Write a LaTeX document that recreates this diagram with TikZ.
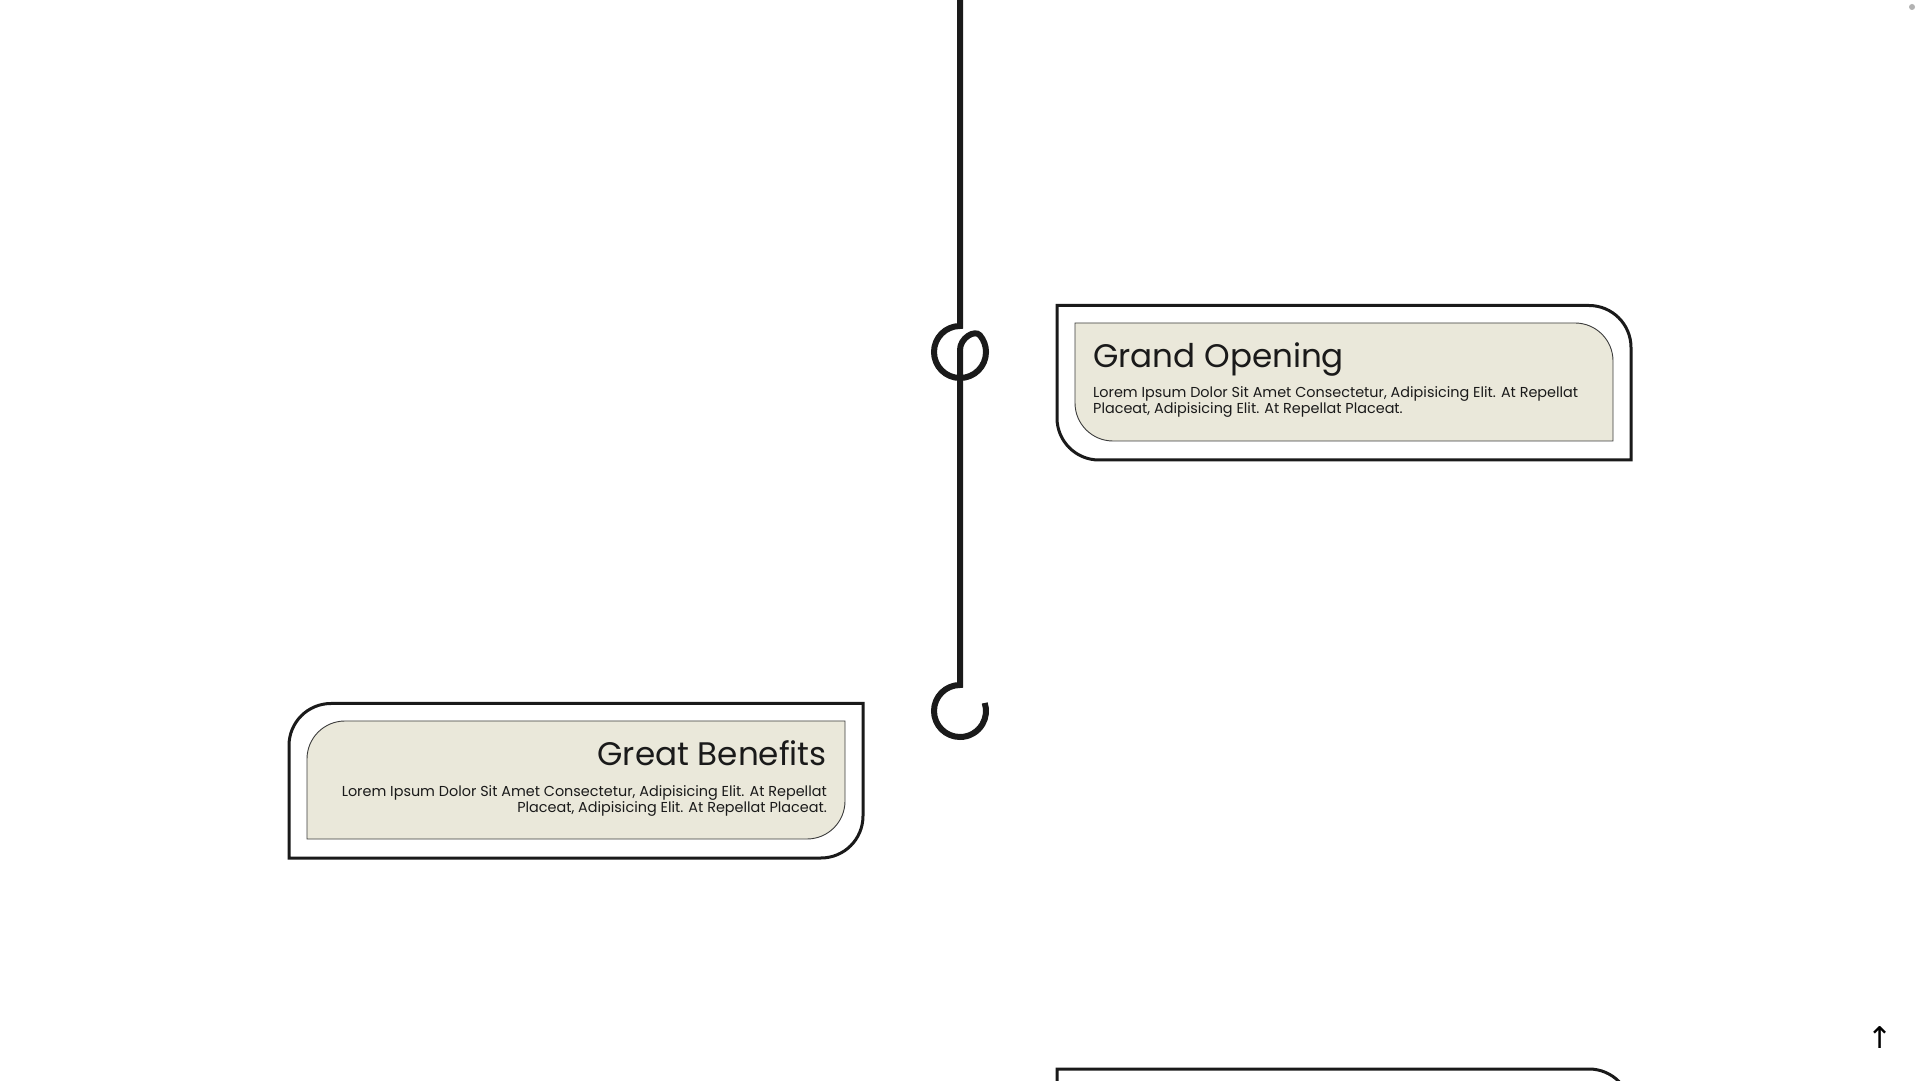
\documentclass[tikz,border=0pt]{standalone}
\usepackage{fontspec}
\setmainfont{Poppins}
\newfontfamily\arrowfont{DejaVu Sans}
\usepackage{tikz}
\usetikzlibrary{calc}
\definecolor{inkdark}{HTML}{1A1A1A}
\definecolor{cardfill}{HTML}{EAE8DA}

\begin{document}
\begin{tikzpicture}[x=1pt, y=1pt,
    outerbox/.style={draw=inkdark, line width=3pt},
    innerbox/.style={draw=inkdark!85, line width=0.9pt, fill=cardfill},
    stem/.style={draw=inkdark, line width=6pt},
    cardtitle/.style={inner sep=0pt, text=inkdark, font=\fontsize{32.6}{38}\selectfont},
    cardtext/.style={inner sep=0pt, text=inkdark, font=\fontsize{14.4}{16}\selectfont}]
  \useasboundingbox (0,0) rectangle (1920,1080);
  \fill[white] (0,0) rectangle (1920,1080);

  % the stem with its two loops
  \draw[stem] (960,1090) -- (960,754)
    arc[start angle=90, end angle=400, radius=26]
    .. controls (974.8,750.8) and (960,742) .. (960,730)
    -- (960,395)
    arc[start angle=90, end angle=378, radius=26];

  % card 1, right of the stem
  \draw[outerbox] (1057,774.5) -- (1589,774.5) arc[start angle=90, end angle=0, radius=42]
    -- (1631,620) -- (1099,620) arc[start angle=270, end angle=180, radius=42] -- cycle;
  \draw[innerbox] (1075,757) -- (1575,757) arc[start angle=90, end angle=0, radius=38]
    -- (1613,639) -- (1113,639) arc[start angle=270, end angle=180, radius=38] -- cycle;
  \node[cardtitle, anchor=base west] (title1) at (1093,712) {Grand Opening};
  \node[cardtext, anchor=base west, align=left] (text1) at (1093,666)
    {Lorem Ipsum Dolor Sit Amet Consectetur, Adipisicing Elit. At Repellat\\
     Placeat, Adipisicing Elit. At Repellat Placeat.};

  % card 2, left of the stem
  \draw[outerbox] (863,376.5) -- (331,376.5) arc[start angle=90, end angle=180, radius=42]
    -- (289,222) -- (821,222) arc[start angle=270, end angle=360, radius=42] -- cycle;
  \draw[innerbox] (845,359) -- (345,359) arc[start angle=90, end angle=180, radius=38]
    -- (307,241) -- (807,241) arc[start angle=270, end angle=360, radius=38] -- cycle;
  \node[cardtitle, anchor=base east] (title2) at (827,314) {Great Benefits};
  \node[cardtext, anchor=base east, align=right] (text2) at (827,268)
    {Lorem Ipsum Dolor Sit Amet Consectetur, Adipisicing Elit. At Repellat\\
     Placeat, Adipisicing Elit. At Repellat Placeat.};

  % card 3, cut off at the bottom
  \draw[outerbox] (1057,-40) -- (1057,11) -- (1589,11) arc[start angle=90, end angle=0, radius=42] -- (1631,-40);

  \fill[gray!60] (1912,1073) circle (3);
  \node[text=black, font=\arrowfont\fontsize{30}{30}\selectfont] (totop) at (1880,42) {↑};
\end{tikzpicture}
\end{document}
